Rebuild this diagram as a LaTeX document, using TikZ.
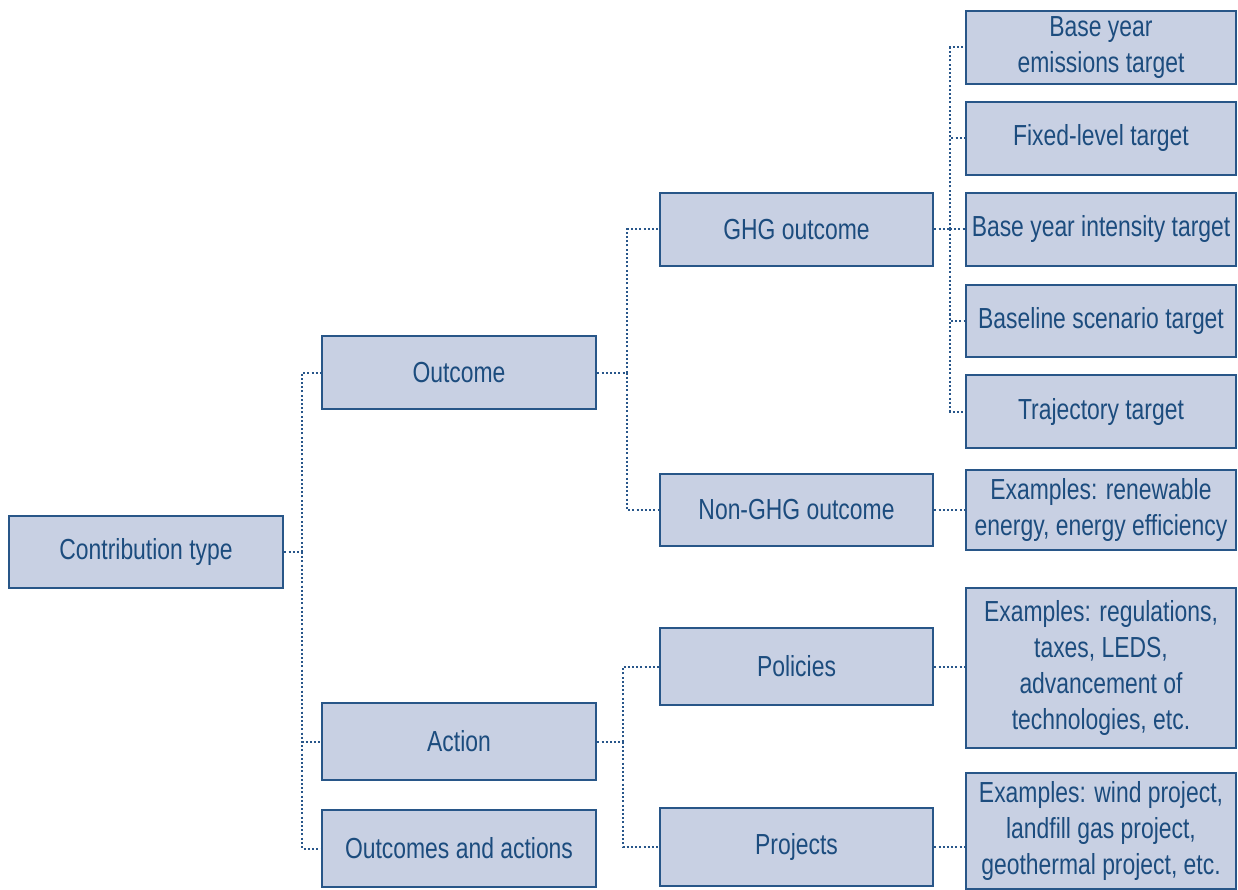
\documentclass[tikz,border=0pt]{standalone}
\usepackage{fontspec}
\setmainfont[FakeStretch=0.79]{Liberation Sans}
\definecolor{boxfill}{RGB}{200,208,227}
\definecolor{boxline}{RGB}{40,86,136}
\definecolor{boxtext}{RGB}{28,76,126}
\definecolor{conncol}{RGB}{40,86,138}
\tikzset{
  box/.style={draw=boxline, fill=boxfill, line width=2.8pt, text=boxtext,
    align=center, inner sep=2pt, font=\fontsize{29}{36}\selectfont},
  conn/.style={draw=conncol, line width=2pt, dash pattern=on 2pt off 2.2pt},
}
\begin{document}
\begin{tikzpicture}[x=1pt,y=-1pt]
\useasboundingbox (0,0) rectangle (1238,890);
% level 0
\node[box, minimum width=274pt, minimum height=72pt] (ct) at (146,552) {Contribution type};
% level 1
\node[box, minimum width=274pt, minimum height=73pt] (out) at (459,372.5) {Outcome};
\node[box, minimum width=274pt, minimum height=77pt] (act) at (459,741.5) {Action};
\node[box, minimum width=274pt, minimum height=77pt] (oa) at (459,848.5) {Outcomes and actions};
% level 2
\node[box, minimum width=273pt, minimum height=73pt] (ghg) at (796.5,229.5) {GHG outcome};
\node[box, minimum width=273pt, minimum height=72pt] (nghg) at (796.5,510) {Non-GHG outcome};
\node[box, minimum width=273pt, minimum height=77pt] (pol) at (796.5,666.5) {Policies};
\node[box, minimum width=273pt, minimum height=78pt] (proj) at (796.5,847) {Projects};
% level 3
\node[box, minimum width=270pt, minimum height=73pt] (t1) at (1101,47.5) {Base year\\emissions target};
\node[box, minimum width=270pt, minimum height=73pt] (t2) at (1101,138.5) {Fixed-level target};
\node[box, minimum width=270pt, minimum height=73pt] (t3) at (1101,229.5) {Base year intensity target};
\node[box, minimum width=270pt, minimum height=72pt] (t4) at (1101,321) {Baseline scenario target};
\node[box, minimum width=270pt, minimum height=73pt] (t5) at (1101,411.5) {Trajectory target};
\node[box, minimum width=270pt, minimum height=80pt] (e1) at (1101,510) {Examples: renewable\\energy, energy efficiency};
\node[box, minimum width=270pt, minimum height=160pt] (e2) at (1101,668) {Examples: regulations,\\taxes, LEDS,\\advancement of\\technologies, etc.};
\node[box, minimum width=270pt, minimum height=116pt] (e3) at (1101,831) {Examples: wind project,\\landfill gas project,\\geothermal project, etc.};
% junctions
\coordinate (j0) at (302,552);
\coordinate (j1) at (627,372.5);
\coordinate (j2) at (623,741.5);
\coordinate (j3) at (950,229.5);
% connectors
\draw[conn] (ct.east) -- (j0);
\draw[conn] (j0) |- (out.west);
\draw[conn] (j0) |- (act.west);
\draw[conn] (j0) |- (oa.west);
\draw[conn] (out.east) -- (j1);
\draw[conn] (j1) |- (ghg.west);
\draw[conn] (j1) |- (nghg.west);
\draw[conn] (act.east) -- (j2);
\draw[conn] (j2) |- (pol.west);
\draw[conn] (j2) |- (proj.west);
\draw[conn] (ghg.east) -- (j3);
\draw[conn] (j3) |- (t1.west);
\draw[conn] (j3) |- (t2.west);
\draw[conn] (j3) |- (t3.west);
\draw[conn] (j3) |- (t4.west);
\draw[conn] (j3) |- (t5.west);
\draw[conn] (nghg.east) -- (nghg.east -| e1.west);
\draw[conn] (pol.east) -- (pol.east -| e2.west);
\draw[conn] (proj.east) -- (proj.east -| e3.west);
\end{tikzpicture}
\end{document}
